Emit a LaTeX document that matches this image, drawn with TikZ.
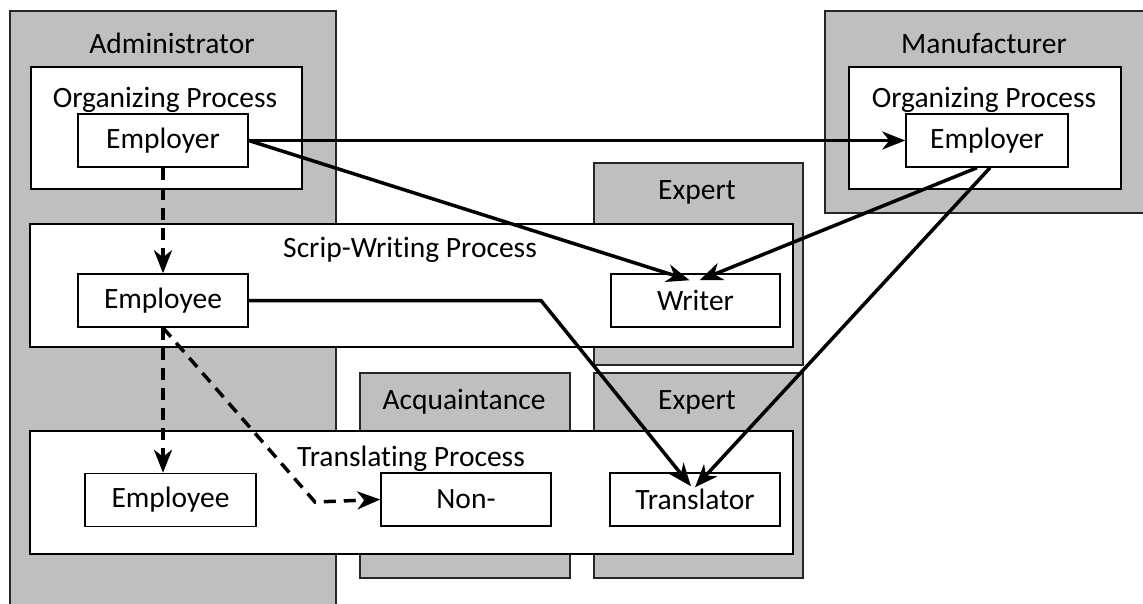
\documentclass[tikz,border=0pt]{standalone}
\usepackage{fontspec}
\setmainfont{Carlito}[Ligatures={NoCommon}]
\usetikzlibrary{arrows.meta}
\definecolor{shade}{RGB}{191,191,191}
\begin{document}
\begin{tikzpicture}[x=1pt,y=-1pt,
  font=\fontsize{29.5}{33}\selectfont,
  party/.style={draw=black!85,line width=1.5pt,fill=shade,anchor=north west,inner sep=0pt},
  process/.style={draw=black,line width=1.5pt,fill=white,anchor=north west,inner sep=0pt},
  role/.style={draw=black,line width=1.5pt,fill=white,minimum width=170pt,minimum height=53pt,inner sep=0pt},
  flow/.style={line width=3.5pt,-{Stealth[length=23pt,width=18pt,inset=7pt]}},
  delegate/.style={flow,dash pattern=on 12pt off 8pt}]
\useasboundingbox (0,0) rectangle (1143,603);
\clip (0,0) rectangle (1143,603);
% parties
\node[party,minimum width=326pt,minimum height=610pt] (admin) at (9,10) {};
\node[party,minimum width=330pt,minimum height=202pt] (maker) at (824,10) {};
\node[party,minimum width=209pt,minimum height=202pt] (expertA) at (593,162) {};
\node[party,minimum width=210pt,minimum height=205pt] (friend) at (359,372) {};
\node[party,minimum width=209pt,minimum height=205pt] (expertB) at (593,372) {};
% processes
\node[process,minimum width=763pt,minimum height=123pt] (script) at (29,223) {};
\node[process,minimum width=763pt,minimum height=123pt] (transl) at (29,430) {};
\node[process,minimum width=271pt,minimum height=122pt] (orgL) at (30,66) {};
\node[process,minimum width=272pt,minimum height=122pt] (orgR) at (848,66) {};
% labels
\node (adminLbl) at (172,43) {Administrator};
\node (makerLbl) at (984,43) {Manufacturer};
\node (orgLLbl) at (165,100) {Organizing Process};
\node (orgRLbl) at (984,100) {Organizing Process};
\node (expertALbl) at (697,192) {Expert};
\node (scriptLbl) at (410,250) {Scrip-Writing Process};
\node (friendLbl) at (464,402) {Acquaintance};
\node (expertBLbl) at (697,402) {Expert};
\node (translLbl) at (411,459) {Translating Process};
% roles
\node[role] (empL) at (163,140.5) {Employer};
\node[role,minimum width=162pt] (empR) at (987,140.5) {Employer};
\node[role] (emp1) at (163,300.5) {Employee};
\node[role,minimum width=169pt] (writer) at (695.5,300.5) {Writer};
\node[role,minimum width=171pt] (emp2) at (170.5,500) {Employee};
\node[role] (non) at (466,499.5) {Non-};
\node[role] (translator) at (695,499.5) {Translator};
% bends
\coordinate (knee) at (541,300.5);
\coordinate (turn) at (315,502);
% connectors
\draw[flow] (empL.east) -- (empR.west);
\draw[flow] (empL.east) -- ([xshift=-6pt,yshift=-7pt]writer.north);
\draw[flow] ([xshift=-10pt]empR.south) -- ([xshift=4pt,yshift=-7pt]writer.north);
\draw[flow] ([xshift=3pt]empR.south) -- ([yshift=-15pt]translator.north);
\draw[flow] (emp1.east) -- (knee) -- ([xshift=-4pt,yshift=-14pt]translator.north);
\draw[delegate] (empL.south) -- (emp1.north);
\draw[delegate] (emp1.south) -- (emp1.south |- emp2.north);
\draw[delegate] (emp1.south) -- (turn) -- (non.west);
\end{tikzpicture}
\end{document}
